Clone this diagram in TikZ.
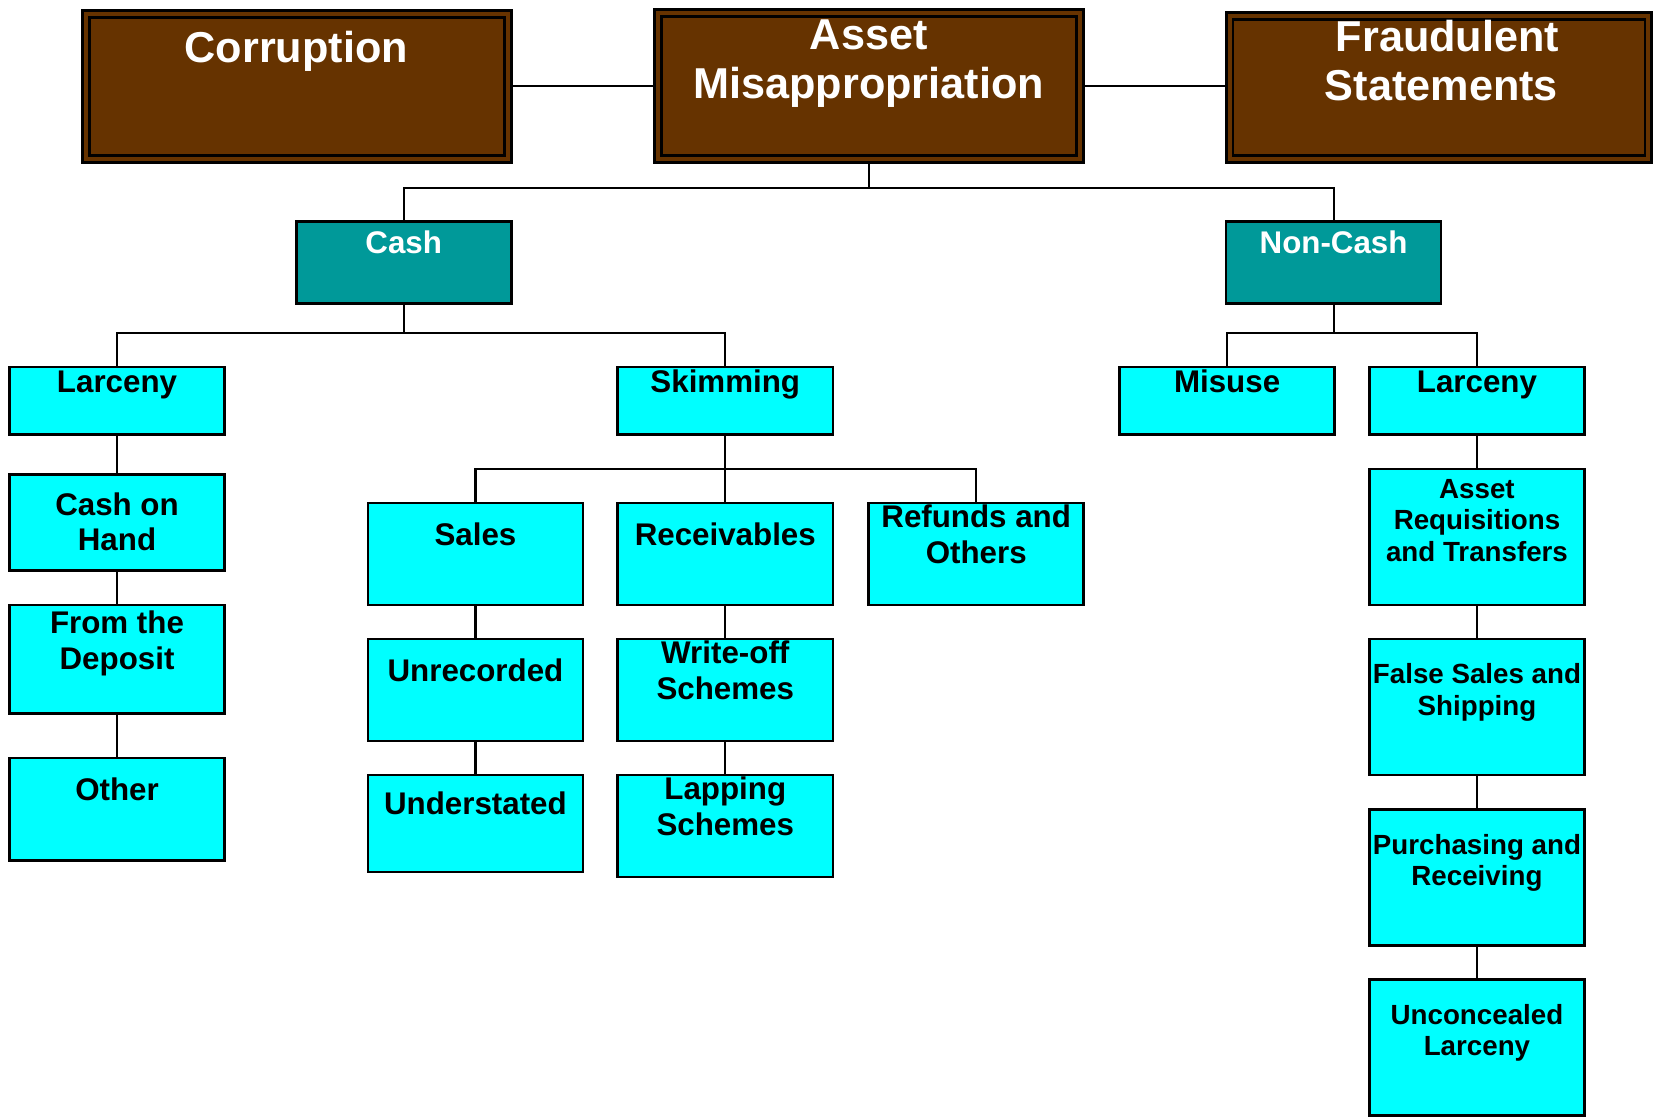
\documentclass[tikz,border=0pt]{standalone}
\usepackage{fontspec}
\setmainfont{Liberation Sans}
\definecolor{brownc}{HTML}{663300}
\definecolor{tealc}{HTML}{009999}
\definecolor{cyanc}{HTML}{00FFFF}
\tikzset{
  boxbase/.style={draw=black, line width=1.25pt, inner sep=0pt, outer sep=0pt},
  brownbox/.style={boxbase, fill=brownc, line width=1.4pt},
  tealbox/.style={boxbase, fill=tealc},
  cyanbox/.style={boxbase, fill=cyanc},
  bigtxt/.style={anchor=base, inner sep=0pt, align=center, text=white, font=\bfseries\fontsize{20.5pt}{23.5pt}\selectfont},
  midwtxt/.style={anchor=base, inner sep=0pt, align=center, text=white, font=\bfseries\fontsize{14.85pt}{17pt}\selectfont},
  midtxt/.style={anchor=base, inner sep=0pt, align=center, text=black, font=\bfseries\fontsize{14.85pt}{17pt}\selectfont},
  smalltxt/.style={anchor=base, inner sep=0pt, align=center, text=black, font=\bfseries\fontsize{13.15pt}{15pt}\selectfont},
  wire/.style={draw=black, line width=1pt},
}
\begin{document}
\begin{tikzpicture}[x=0.5pt, y=-0.5pt]
\useasboundingbox (0,0) rectangle (1568,1059);
% top level
\node[brownbox, minimum width=203.5pt, minimum height=72pt] (corr) at (281.5,82) {};
\node[brownbox, minimum width=203.5pt, minimum height=72.5pt] (am) at (824.5,81.5) {};
\node[brownbox, minimum width=202pt, minimum height=71pt] (fs) at (1365,83) {};
\foreach \n in {corr,am,fs}
  \draw[line width=1.4pt] ([shift={(3.3pt,3.3pt)}]\n.south west) rectangle ([shift={(-3.3pt,-3.3pt)}]\n.north east);
% second level
\node[tealbox, minimum width=102pt, minimum height=39pt] (cash) at (383,249) {};
\node[tealbox, minimum width=102pt, minimum height=39pt] (noncash) at (1265,249) {};
% third level
\node[cyanbox, minimum width=102pt, minimum height=32pt] (larc1) at (111,380) {};
\node[cyanbox, minimum width=102pt, minimum height=32pt] (skim) at (688,380) {};
\node[cyanbox, minimum width=102pt, minimum height=32pt] (misuse) at (1164,380) {};
\node[cyanbox, minimum width=102pt, minimum height=32pt] (larc2) at (1401,380) {};
% larceny chain
\node[cyanbox, minimum width=102pt, minimum height=45.5pt] (coh) at (111,495.5) {};
\node[cyanbox, minimum width=102pt, minimum height=51.5pt] (ftd) at (111,625.5) {};
\node[cyanbox, minimum width=102pt, minimum height=48.5pt] (other) at (111,767.5) {};
% skimming
\node[cyanbox, minimum width=102pt, minimum height=48.5pt] (sales) at (451,525.5) {};
\node[cyanbox, minimum width=102pt, minimum height=48.5pt] (recv) at (688,525.5) {};
\node[cyanbox, minimum width=102pt, minimum height=48.5pt] (refunds) at (926,525.5) {};
\node[cyanbox, minimum width=102pt, minimum height=48.5pt] (unrec) at (451,654.5) {};
\node[cyanbox, minimum width=102pt, minimum height=46pt] (under) at (451,781) {};
\node[cyanbox, minimum width=102pt, minimum height=48.5pt] (writeoff) at (688,654.5) {};
\node[cyanbox, minimum width=102pt, minimum height=48.5pt] (lapping) at (688,783.5) {};
% non-cash larceny chain
\node[cyanbox, minimum width=102pt, minimum height=64.5pt] (areq) at (1401,509.5) {};
\node[cyanbox, minimum width=102pt, minimum height=64.5pt] (fss) at (1401,670.5) {};
\node[cyanbox, minimum width=102pt, minimum height=64.5pt] (pr) at (1401,832.5) {};
\node[cyanbox, minimum width=102pt, minimum height=64.5pt] (ul) at (1401,993.5) {};
% connectors
\draw[wire] (corr.east) -- (corr.east -| am.west);
\draw[wire] (am.east) -- (am.east -| fs.west);
\draw[wire] (am.south) -- ++(0,24) -| (cash.north);
\draw[wire] (am.south) -- ++(0,24) -| (noncash.north);
\draw[wire] (cash.south) -- ++(0,28) -| (larc1.north);
\draw[wire] (cash.south) -- ++(0,28) -| (skim.north);
\draw[wire] (noncash.south) -- ++(0,28) -| (misuse.north);
\draw[wire] (noncash.south) -- ++(0,28) -| (larc2.north);
\draw[wire] (skim.south) -- ++(0,33) -| (sales.north);
\draw[wire] (skim.south) -- (recv.north);
\draw[wire] (skim.south) -- ++(0,33) -| (refunds.north);
\draw[wire] (larc1.south) -- (coh.north);
\draw[wire] (coh.south) -- (ftd.north);
\draw[wire] (ftd.south) -- (other.north);
\draw[wire] (sales.south) -- (unrec.north);
\draw[wire] (unrec.south) -- (under.north);
\draw[wire] (recv.south) -- (writeoff.north);
\draw[wire] (writeoff.south) -- (lapping.north);
\draw[wire] (larc2.south) -- (areq.north);
\draw[wire] (areq.south) -- (fss.north);
\draw[wire] (fss.south) -- (pr.north);
\draw[wire] (pr.south) -- (ul.north);
% texts (base anchor = baseline of last line)
\node[bigtxt] (tcorr) at (281,59.7) {Corruption};
\node[bigtxt] (tam) at (824,93.7) {Asset\\Misappropriation};
\node[bigtxt] (tfs) at (1373,95.7) {Fraudulent\\Statements\hspace*{0.278em}};
\node[midwtxt] (tcash) at (383,240.6) {Cash};
\node[midwtxt] (tnoncash) at (1265,240.6) {Non-Cash};
\node[midtxt] (tlarc1) at (111,372.6) {Larceny};
\node[midtxt] (tskim) at (688,372.6) {Skimming};
\node[midtxt] (tmisuse) at (1164,372.6) {Misuse};
\node[midtxt] (tlarc2) at (1401,372.6) {Larceny};
\node[midtxt] (tcoh) at (111,522.6) {Cash on\\Hand};
\node[midtxt] (tftd) at (111,634.6) {From the\\Deposit};
\node[midtxt] (tother) at (111,759.6) {Other};
\node[midtxt] (tsales) at (451,517.6) {Sales};
\node[midtxt] (trecv) at (688,517.6) {Receivables};
\node[midtxt] (trefunds) at (926,534.6) {Refunds and\\Others};
\node[midtxt] (tunrec) at (451,646.6) {Unrecorded};
\node[midtxt] (tunder) at (451,772.6) {Understated};
\node[midtxt] (twriteoff) at (688,663.6) {Write-off\\Schemes};
\node[midtxt] (tlapping) at (688,792.6) {Lapping\\Schemes};
\node[smalltxt] (tareq) at (1401,532.4) {Asset\\Requisitions\\and Transfers};
\node[smalltxt] (tfss) at (1401,678.4) {False Sales and\\Shipping};
\node[smalltxt] (tpr) at (1401,840.4) {Purchasing and\\Receiving};
\node[smalltxt] (tul) at (1401,1001.4) {Unconcealed\\Larceny};
\end{tikzpicture}
\end{document}
